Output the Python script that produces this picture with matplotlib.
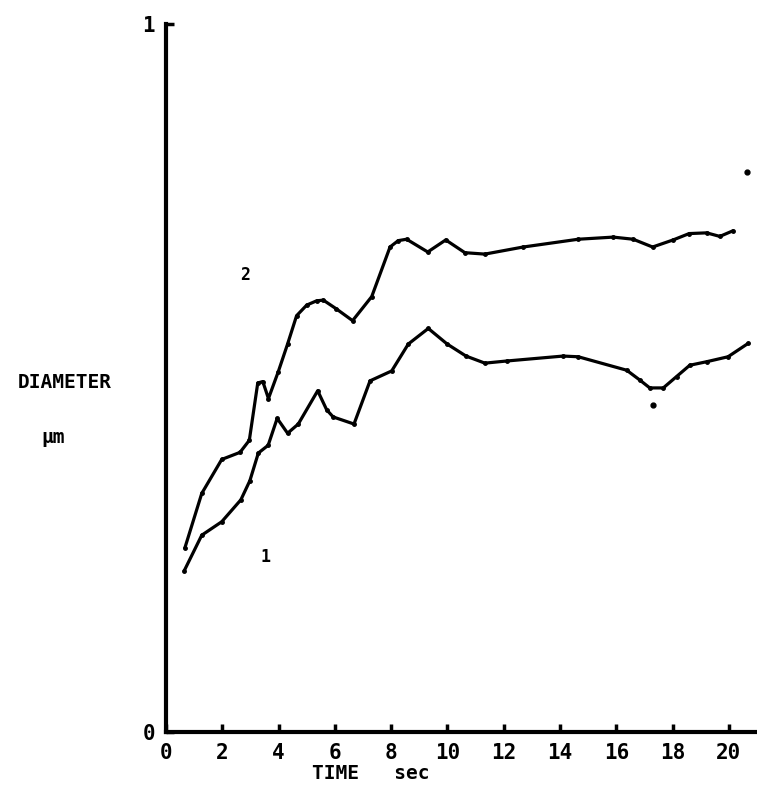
import matplotlib
matplotlib.use("Agg")
import matplotlib.pyplot as plt

# time (sec) and diameter readings for the two runs
time_2 = [0.67, 1.27, 1.98, 2.63, 2.96, 3.26, 3.44, 3.64, 3.99, 4.32, 4.64, 5.00,
          5.35, 5.59, 6.04, 6.63, 7.31, 7.96, 8.25, 8.55, 9.30, 9.94, 10.62, 11.33,
          12.69, 14.65, 15.89, 16.60, 17.29, 18.02, 18.59, 19.21, 19.68, 20.15]
diam_2 = [0.260, 0.337, 0.385, 0.395, 0.412, 0.493, 0.495, 0.471, 0.509, 0.548,
          0.588, 0.603, 0.609, 0.610, 0.598, 0.581, 0.615, 0.685, 0.694, 0.696,
          0.678, 0.695, 0.677, 0.675, 0.685, 0.696, 0.699, 0.696, 0.685, 0.695,
          0.704, 0.705, 0.700, 0.708]

time_1 = [0.65, 1.27, 1.98, 2.66, 2.98, 3.28, 3.63, 3.95, 4.32, 4.70, 5.39, 5.71,
          5.94, 6.68, 7.25, 8.02, 8.61, 9.32, 9.99, 10.66, 11.33, 12.10, 14.11,
          14.65, 16.37, 16.84, 17.19, 17.67, 18.14, 18.61, 19.21, 19.97, 20.69]
diam_1 = [0.228, 0.278, 0.297, 0.328, 0.355, 0.394, 0.405, 0.443, 0.422, 0.435,
          0.482, 0.455, 0.445, 0.435, 0.496, 0.510, 0.548, 0.570, 0.548, 0.531,
          0.521, 0.524, 0.531, 0.530, 0.511, 0.497, 0.486, 0.486, 0.502, 0.518,
          0.523, 0.530, 0.549]

# stray points
stray_t = [20.63, 17.31]
stray_d = [0.791, 0.462]

x_ticks = [0, 2, 4, 6, 8, 10, 12, 14, 16, 18, 20]
y_ticks = [0, 1]

font = {"family": "DejaVu Sans Mono", "weight": "bold"}

fig = plt.figure(figsize=(7.57, 7.89), dpi=100)
ax = fig.add_axes([0.2193, 0.0722, 0.7807, 0.8974])

for t, d in [(time_2, diam_2), (time_1, diam_1)]:
    ax.plot(t, d, color="black", lw=2.3, marker="o", ms=2.5,
            solid_joinstyle="round", solid_capstyle="round")
ax.plot(stray_t, stray_d, "o", color="black", ms=3.5, ls="none")

ax.text(2.81, 0.646, "2", fontsize=12, ha="center", va="center", **font)
ax.text(3.52, 0.247, "1", fontsize=12, ha="center", va="center", **font)

ax.set_xlim(0, 21.0)
ax.set_ylim(0, 1)
ax.set_xticks(x_ticks)
ax.set_yticks(y_ticks)
ax.set_xticklabels([str(v) for v in x_ticks], fontsize=15, **font)
ax.set_yticklabels([str(v) for v in y_ticks], fontsize=15, **font)
ax.tick_params(direction="in", length=6, width=2.5, pad=8)

for side in ["top", "right"]:
    ax.spines[side].set_visible(False)
for side in ["left", "bottom"]:
    ax.spines[side].set_linewidth(3)

fig.text(0.085, 0.515, "DIAMETER", fontsize=14, ha="center", va="center", **font)
fig.text(0.07, 0.445, "µm", fontsize=14, ha="center", va="center", **font)
fig.text(0.49, 0.02, "TIME   sec", fontsize=14, ha="center", va="center", **font)

fig.savefig("out.png", dpi=100)
